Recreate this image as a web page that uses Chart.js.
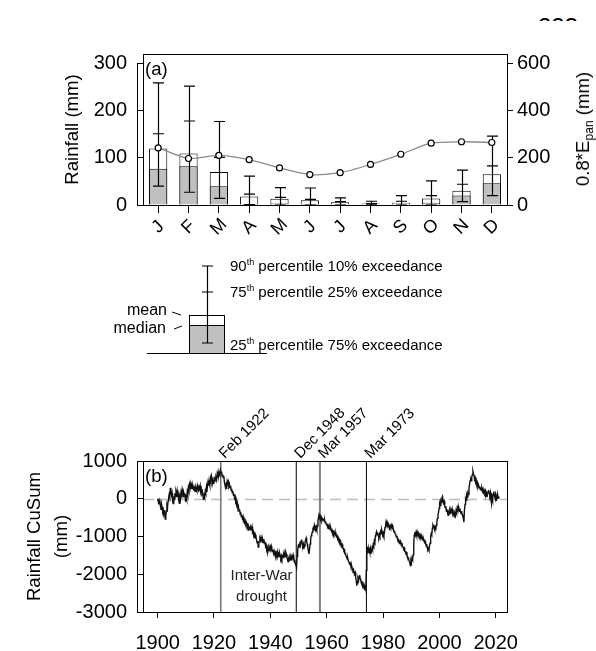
<!DOCTYPE html>
<html>
<head>
<meta charset="utf-8">
<script src="https://cdn.jsdelivr.net/npm/chart.js@4.4.1/dist/chart.umd.min.js"></script>
<style>
  body { margin: 0; background: #fff; }
  #page { position: relative; width: 596px; height: 651px; overflow: hidden; font-family: "Liberation Sans", Arial, sans-serif; color: #000; }
  canvas { position: absolute; }
  .txt { position: absolute; white-space: nowrap; line-height: 18px; }
  .txt sup { font-size: 60%; line-height: 0; vertical-align: 0.65em; }
  .txt sub { font-size: 65%; line-height: 0; vertical-align: -0.35em; }
  #pageNo { position: absolute; left: 538px; top: 0; width: 50px; height: 21px; overflow: hidden; }
  #pageNo span { position: absolute; left: 0; top: 15px; font-size: 24px; line-height: 24px; }
</style>
</head>
<body>
<div id="page">
  <div id="pageNo"><span>223</span></div>
  <canvas id="rainChart" width="596" height="250" style="left:0;top:0"></canvas>
  <canvas id="keyChart" width="400" height="120" style="left:100px;top:250px"></canvas>
  <canvas id="cusumChart" width="596" height="281" style="left:0;top:370px"></canvas>

  <div class="txt" id="evapTitle" style="left:583px;top:129px;font-size:18.6px;transform:translate(-50%,-50%) rotate(-90deg);">0.8*E<sub>pan</sub> (mm)</div>

  <div class="txt" style="left:230px;top:257px;font-size:15px;">90<sup>th</sup> percentile 10% exceedance</div>
  <div class="txt" style="left:230px;top:283px;font-size:15px;">75<sup>th</sup> percentile 25% exceedance</div>
  <div class="txt" style="left:230px;top:336px;font-size:15px;">25<sup>th</sup> percentile 75% exceedance</div>
  <div class="txt" style="right:429px;top:301px;font-size:16px;">mean</div>
  <div class="txt" style="right:430px;top:319px;font-size:16px;">median</div>
</div>
<script>
// ---- panel (a): monthly rainfall statistics ----
const months = ['J', 'F', 'M', 'A', 'M', 'J', 'J', 'A', 'S', 'O', 'N', 'D'];
const meanRain = [120, 109, 70, 18, 13, 10, 6, 3, 5, 14, 30, 65];
const medianRain = [77, 82, 40, 2, 3, 2, 1, 0, 1, 5, 20, 46];
const p25Rain = [40, 27, 14, 1, 0, 0, 0, 0, 0, 0, 7, 20];
const p75Rain = [151, 178, 101, 23, 16, 12, 7, 3, 8, 20, 44, 83];
const p90Rain = [259, 252, 177, 61, 37, 36, 15, 8, 20, 51, 74, 146];
const evapPan = [242, 197, 210, 192, 157, 129, 137, 172, 215, 262, 268, 265];
const rainTicks = [0, 100, 200, 300];
const evapTicks = [0, 200, 400, 600];

// ---- key diagram ----
const keyMean = [38];
const keyMedian = [28];
const keyP25 = [10];
const keyP75 = [61];
const keyP90 = [87];

// ---- panel (b): rainfall CuSum ----
const cusumSeries = [
  [1900.0, 0], [1900.2, -60], [1900.4, -150], [1900.6, -40], [1900.8, -90], [1901.0, -200], [1901.2, -280],
  [1901.4, -150], [1901.6, -220], [1901.8, -350], [1902.0, -300], [1902.2, -420], [1902.5, -360], [1902.7, -540],
  [1902.9, -430], [1903.1, -330], [1903.3, -180], [1903.5, -240], [1903.7, -60], [1903.9, 40], [1904.1, 120],
  [1904.3, 60], [1904.5, 290], [1904.7, 180], [1904.9, 100], [1905.1, 160], [1905.3, -60], [1905.5, -130],
  [1905.7, 60], [1905.9, -20], [1906.1, 140], [1906.3, 60], [1906.5, 190], [1906.7, 120], [1906.9, 210],
  [1907.1, 40], [1907.3, 120], [1907.5, -40], [1907.7, -120], [1907.9, 60], [1908.1, 0], [1908.3, 170],
  [1908.5, 110], [1908.7, 250], [1908.9, 180], [1909.1, 60], [1909.3, 150], [1909.5, 90], [1909.7, 140],
  [1909.9, -80], [1910.1, 40], [1910.3, -20], [1910.5, 180], [1910.7, 110], [1910.9, 290], [1911.1, 220],
  [1911.3, 380], [1911.5, 430], [1911.7, 300], [1911.9, 360], [1912.1, 260], [1912.3, 380], [1912.5, 300],
  [1912.7, 240], [1912.9, 330], [1913.1, 250], [1913.3, 320], [1913.5, 180], [1913.7, 260], [1913.9, 210],
  [1914.1, 350], [1914.3, 290], [1914.5, 230], [1914.7, 310], [1914.9, 260], [1915.1, 340], [1915.3, 200],
  [1915.5, 260], [1915.7, 140], [1915.9, 180], [1916.1, 60], [1916.3, -30], [1916.5, 90], [1916.7, 40],
  [1916.9, 200], [1917.1, 150], [1917.3, 300], [1917.5, 180], [1917.7, 380], [1917.9, 470], [1918.1, 350],
  [1918.3, 430], [1918.5, 360], [1918.7, 540], [1918.9, 470], [1919.1, 600], [1919.3, 520], [1919.5, 430],
  [1919.7, 500], [1919.9, 390], [1920.1, 470], [1920.3, 580], [1920.5, 480], [1920.7, 560], [1920.9, 500],
  [1921.1, 640], [1921.3, 560], [1921.5, 700], [1921.7, 610], [1921.9, 680], [1922.1, 640], [1922.3, 760],
  [1922.5, 690], [1922.7, 710], [1922.9, 600], [1923.1, 640], [1923.3, 560], [1923.5, 600], [1923.7, 430],
  [1923.9, 360], [1924.1, 300], [1924.3, 360], [1924.5, 260], [1924.7, 470], [1924.9, 420], [1925.1, 460],
  [1925.3, 330], [1925.5, 380], [1925.7, 290], [1925.9, 340], [1926.1, 220], [1926.3, 260], [1926.5, 160],
  [1926.7, 200], [1926.9, 90], [1927.1, 130], [1927.3, 20], [1927.5, 60], [1927.7, -80], [1927.9, -40],
  [1928.1, -170], [1928.3, -130], [1928.5, -260], [1928.7, -220], [1928.9, -330], [1929.1, -290], [1929.3, -410],
  [1929.5, -360], [1929.7, -480], [1929.9, -440], [1930.1, -520], [1930.3, -470], [1930.5, -580], [1930.7, -540],
  [1930.9, -620], [1931.1, -580], [1931.3, -680], [1931.5, -640], [1931.7, -740], [1931.9, -700], [1932.1, -830],
  [1932.3, -740], [1932.5, -790], [1932.7, -730], [1932.9, -820], [1933.1, -760], [1933.3, -800], [1933.5, -740],
  [1933.7, -890], [1933.9, -860], [1934.1, -970], [1934.3, -930], [1934.5, -1050], [1934.7, -960], [1934.9, -1020],
  [1935.1, -1090], [1935.3, -1170], [1935.5, -1120], [1935.7, -1280], [1935.9, -1180], [1936.1, -1130], [1936.3, -1060],
  [1936.5, -1110], [1936.7, -1010], [1936.9, -1060], [1937.1, -1150], [1937.3, -1090], [1937.5, -1160], [1937.7, -1070],
  [1937.9, -1190], [1938.1, -1140], [1938.3, -1260], [1938.5, -1220], [1938.7, -1340], [1938.9, -1290], [1939.1, -1410],
  [1939.3, -1350], [1939.5, -1290], [1939.7, -1340], [1939.9, -1260], [1940.1, -1310], [1940.3, -1250], [1940.5, -1330],
  [1940.7, -1390], [1940.9, -1350], [1941.1, -1440], [1941.3, -1380], [1941.5, -1460], [1941.7, -1420], [1941.9, -1500],
  [1942.1, -1430], [1942.3, -1470], [1942.5, -1400], [1942.7, -1520], [1942.9, -1470], [1943.1, -1530], [1943.3, -1440],
  [1943.5, -1500], [1943.7, -1570], [1943.9, -1510], [1944.1, -1580], [1944.3, -1520], [1944.5, -1560], [1944.7, -1480],
  [1944.9, -1540], [1945.1, -1470], [1945.3, -1530], [1945.5, -1420], [1945.7, -1470], [1945.9, -1560], [1946.1, -1610],
  [1946.3, -1670], [1946.5, -1590], [1946.7, -1630], [1946.9, -1560], [1947.1, -1610], [1947.3, -1540], [1947.5, -1590],
  [1947.7, -1520], [1947.9, -1570], [1948.1, -1490], [1948.3, -1560], [1948.5, -1620], [1948.7, -1660], [1948.9, -1720],
  [1949.1, -1760], [1949.3, -1820], [1949.5, -1520], [1949.7, -1380], [1949.9, -1240], [1950.1, -1190], [1950.3, -1280],
  [1950.5, -1140], [1950.7, -1220], [1950.9, -1120], [1951.1, -1080], [1951.3, -1180], [1951.5, -1260], [1951.7, -1200],
  [1951.9, -1330], [1952.1, -1250], [1952.3, -1170], [1952.5, -1090], [1952.7, -1040], [1952.9, -1130], [1953.1, -1210],
  [1953.3, -1290], [1953.5, -1380], [1953.7, -1460], [1953.9, -1350], [1954.1, -1200], [1954.3, -1080], [1954.5, -980],
  [1954.7, -930], [1954.9, -880], [1955.1, -800], [1955.3, -760], [1955.5, -820], [1955.7, -700], [1955.9, -740],
  [1956.1, -790], [1956.3, -740], [1956.5, -810], [1956.7, -720], [1956.9, -580], [1957.1, -500], [1957.3, -420],
  [1957.5, -480], [1957.7, -450], [1957.9, -540], [1958.1, -500], [1958.3, -580], [1958.5, -530], [1958.7, -560],
  [1958.9, -520], [1959.1, -600], [1959.3, -570], [1959.5, -640], [1959.7, -610], [1959.9, -690], [1960.1, -660],
  [1960.3, -740], [1960.5, -790], [1960.7, -740], [1960.9, -780], [1961.1, -760], [1961.3, -820], [1961.5, -790],
  [1961.7, -860], [1961.9, -830], [1962.1, -900], [1962.3, -870], [1962.5, -930], [1962.7, -880], [1962.9, -920],
  [1963.1, -960], [1963.3, -930], [1963.5, -1000], [1963.7, -980], [1963.9, -1060], [1964.1, -1030], [1964.3, -1100],
  [1964.5, -1080], [1964.7, -1140], [1964.9, -1120], [1965.1, -1200], [1965.3, -1240], [1965.5, -1210], [1965.7, -1290],
  [1965.9, -1320], [1966.1, -1370], [1966.3, -1350], [1966.5, -1430], [1966.7, -1470], [1966.9, -1520], [1967.1, -1550],
  [1967.3, -1600], [1967.5, -1580], [1967.7, -1650], [1967.9, -1680], [1968.1, -1720], [1968.3, -1700], [1968.5, -1770],
  [1968.7, -1820], [1968.9, -1790], [1969.1, -1860], [1969.3, -1900], [1969.5, -1870], [1969.7, -1940], [1969.9, -1980],
  [1970.1, -1950], [1970.3, -2080], [1970.5, -2180], [1970.7, -2300], [1970.9, -2200], [1971.1, -2120], [1971.3, -2180],
  [1971.5, -2060], [1971.7, -2020], [1971.9, -2110], [1972.1, -2170], [1972.3, -2230], [1972.5, -2180], [1972.7, -2300],
  [1972.9, -2250], [1973.1, -2330], [1973.3, -2290], [1973.5, -2370], [1973.7, -2340], [1973.9, -2410], [1974.05, -1900],
  [1974.2, -1400], [1974.3, -1280], [1974.5, -1380], [1974.7, -1300], [1974.9, -1440], [1975.1, -1350], [1975.3, -1420],
  [1975.5, -1330], [1975.7, -1460], [1975.9, -1380], [1976.1, -1300], [1976.3, -1350], [1976.5, -1220], [1976.7, -1260],
  [1976.9, -1120], [1977.1, -1160], [1977.3, -980], [1977.5, -920], [1977.7, -870], [1977.9, -940], [1978.1, -900],
  [1978.3, -980], [1978.5, -1020], [1978.7, -950], [1978.9, -1000], [1979.1, -880], [1979.3, -930], [1979.5, -820],
  [1979.7, -880], [1979.9, -940], [1980.1, -900], [1980.3, -970], [1980.5, -890], [1980.7, -760], [1980.9, -700],
  [1981.1, -600], [1981.3, -660], [1981.5, -620], [1981.7, -710], [1981.9, -680], [1982.1, -760], [1982.3, -800],
  [1982.5, -740], [1982.7, -780], [1982.9, -690], [1983.1, -730], [1983.3, -700], [1983.5, -760], [1983.7, -820],
  [1983.9, -880], [1984.1, -850], [1984.3, -930], [1984.5, -960], [1984.7, -1010], [1984.9, -980], [1985.1, -1060],
  [1985.3, -1100], [1985.5, -1080], [1985.7, -1130], [1985.9, -1150], [1986.1, -1120], [1986.3, -1180], [1986.5, -1200],
  [1986.7, -1170], [1986.9, -1250], [1987.1, -1280], [1987.3, -1320], [1987.5, -1300], [1987.7, -1380], [1987.9, -1410],
  [1988.1, -1440], [1988.3, -1420], [1988.5, -1490], [1988.7, -1530], [1988.9, -1560], [1989.1, -1600], [1989.3, -1660],
  [1989.5, -1700], [1989.7, -1770], [1989.9, -1640], [1990.1, -1690], [1990.3, -1560], [1990.5, -1600], [1990.7, -1480],
  [1990.9, -1200], [1991.1, -950], [1991.3, -880], [1991.5, -960], [1991.7, -890], [1991.9, -960], [1992.1, -870],
  [1992.3, -930], [1992.5, -900], [1992.7, -960], [1992.9, -940], [1993.1, -1000], [1993.3, -970], [1993.5, -1050],
  [1993.7, -1020], [1993.9, -1080], [1994.1, -1060], [1994.3, -1110], [1994.5, -1090], [1994.7, -1150], [1994.9, -1120],
  [1995.1, -1180], [1995.3, -1220], [1995.5, -1200], [1995.7, -1280], [1995.9, -1360], [1996.1, -1330], [1996.3, -1370],
  [1996.5, -1240], [1996.7, -1180], [1996.9, -1010], [1997.1, -930], [1997.3, -960], [1997.5, -780], [1997.7, -700],
  [1997.9, -740], [1998.1, -720], [1998.3, -790], [1998.5, -760], [1998.7, -840], [1998.9, -700], [1999.1, -620],
  [1999.3, -520], [1999.5, -430], [1999.7, -360], [1999.9, -250], [2000.1, -130], [2000.3, -180], [2000.5, -60],
  [2000.7, -100], [2000.9, 20], [2001.1, 60], [2001.3, -40], [2001.5, -90], [2001.7, -60], [2001.9, -180],
  [2002.1, -240], [2002.3, -200], [2002.5, -330], [2002.7, -280], [2002.9, -380], [2003.1, -440], [2003.3, -360],
  [2003.5, -400], [2003.7, -320], [2003.9, -380], [2004.1, -290], [2004.3, -330], [2004.5, -270], [2004.7, -390],
  [2004.9, -340], [2005.1, -430], [2005.3, -480], [2005.5, -400], [2005.7, -450], [2005.9, -320], [2006.1, -370],
  [2006.3, -250], [2006.5, -300], [2006.7, -200], [2006.9, -280], [2007.1, -330], [2007.3, -260], [2007.5, -350],
  [2007.7, -390], [2007.9, -330], [2008.1, -420], [2008.3, -460], [2008.5, -520], [2008.7, -620], [2008.9, -300],
  [2009.1, -150], [2009.3, 0], [2009.5, -40], [2009.7, 90], [2009.9, 40], [2010.1, 150], [2010.3, 110],
  [2010.5, 280], [2010.7, 380], [2010.9, 470], [2011.1, 520], [2011.3, 480], [2011.5, 580], [2011.7, 640],
  [2011.9, 730], [2012.1, 660], [2012.3, 610], [2012.5, 520], [2012.7, 560], [2012.9, 440], [2013.1, 480],
  [2013.3, 370], [2013.5, 420], [2013.7, 310], [2013.9, 360], [2014.1, 290], [2014.3, 330], [2014.5, 250],
  [2014.7, 300], [2014.9, 220], [2015.1, 270], [2015.3, 200], [2015.5, 260], [2015.7, 180], [2015.9, 220],
  [2016.1, 160], [2016.3, 210], [2016.5, 100], [2016.7, 150], [2016.9, 40], [2017.1, 120], [2017.3, 190],
  [2017.5, 230], [2017.7, 150], [2017.9, 90], [2018.1, 160], [2018.3, -20], [2018.5, -130], [2018.7, 50],
  [2018.9, -20], [2019.1, 120], [2019.3, 190], [2019.5, 90], [2019.7, 30], [2019.9, 110], [2020.1, -40],
  [2020.3, 60], [2020.5, 10], [2020.7, 90], [2020.9, 20], [2021.1, 60]
];
const yearTicks = [1900, 1920, 1940, 1960, 1980, 2000, 2020];
const cusumTicks = [-3000, -2000, -1000, 0, 1000];
const eventYears = [1922.4, 1949.2, 1957.6, 1974.1];
const eventLabels = ['Feb 1922', 'Dec 1948', 'Mar 1957', 'Mar 1973'];

const FONT = '"Liberation Sans", Arial, sans-serif';
Chart.defaults.font.family = FONT;
Chart.defaults.color = '#000';

const eventStyles = [
  { color: '#7a7a7a', width: 1.6 },
  { color: '#000', width: 1 },
  { color: '#808080', width: 2 },
  { color: '#000', width: 1 }
];

const crisp = v => Math.round(v) + 0.5;

// box + offset spine, like the original plotting package
const framePlugin = {
  id: 'frame',
  afterDraw(chart, args, opts) {
    const { ctx, chartArea: a } = chart;
    ctx.save();
    ctx.strokeStyle = '#000';
    ctx.lineWidth = 1;
    ctx.strokeRect(crisp(a.left), crisp(a.top), Math.round(a.right - a.left), Math.round(a.bottom - a.top));
    if (opts.spine) {
      const y = chart.scales.y;
      ctx.beginPath();
      ctx.moveTo(crisp(a.left - 6), y.getPixelForValue(opts.spine[0]));
      ctx.lineTo(crisp(a.left - 6), y.getPixelForValue(opts.spine[1]));
      ctx.stroke();
    }
    if (opts.tag) {
      ctx.font = '18.6px ' + FONT;
      ctx.fillStyle = '#000';
      ctx.textBaseline = 'middle';
      ctx.fillText(opts.tag, a.left + 2, a.top + 16);
    }
    ctx.restore();
  }
};

function drawWhiskers(ctx, x, y, lo, mid, hi) {
  ctx.save();
  ctx.strokeStyle = '#000';
  ctx.lineWidth = 1.2;
  lo.forEach((v, i) => {
    const px = crisp(x.getPixelForValue(i));
    const ys = [lo[i], mid[i], hi[i]].map(v => y.getPixelForValue(v));
    ctx.beginPath();
    ctx.moveTo(px, ys[0]);
    ctx.lineTo(px, ys[2]);
    ys.forEach(yy => { ctx.moveTo(px - 5.5, yy); ctx.lineTo(px + 5.5, yy); });
    ctx.stroke();
  });
  ctx.restore();
}

const whiskerPlugin = {
  id: 'whiskers',
  afterDatasetDraw(chart, args) {
    if (chart.data.datasets[args.index].label !== 'median') return;
    drawWhiskers(chart.ctx, chart.scales.x, chart.scales.y, p25Rain, p75Rain, p90Rain);
  }
};

const monthLabelPlugin = {
  id: 'monthLabels',
  afterDraw(chart) {
    const { ctx, scales: { x } } = chart;
    ctx.save();
    ctx.font = '18px ' + FONT;
    ctx.fillStyle = '#000';
    ctx.textAlign = 'center';
    ctx.textBaseline = 'middle';
    months.forEach((m, i) => {
      ctx.save();
      ctx.translate(x.getPixelForValue(i), chart.chartArea.bottom + 22);
      ctx.rotate(-Math.PI / 4);
      ctx.fillText(m, 0, 0);
      ctx.restore();
    });
    ctx.restore();
  }
};

const fixedTicks = list => scale => { scale.ticks = list.map(v => ({ value: v })); };

new Chart(document.getElementById('rainChart'), {
  type: 'bar',
  data: {
    labels: months,
    datasets: [
      { type: 'line', label: 'evap', data: evapPan, yAxisID: 'y2', order: 0,
        borderColor: '#8a8a8a', borderWidth: 1.3, tension: 0.25,
        pointRadius: 3, pointBackgroundColor: '#fff', pointBorderColor: '#000', pointBorderWidth: 1.2 },
      { label: 'median', data: medianRain, order: 1, backgroundColor: '#c0c0c0', borderColor: '#000',
        borderWidth: 1, grouped: false, barPercentage: 0.6, categoryPercentage: 1 },
      { label: 'mean', data: meanRain, order: 2, backgroundColor: '#fff', borderColor: '#000',
        borderWidth: 1, grouped: false, barPercentage: 0.6, categoryPercentage: 1 }
    ]
  },
  options: {
    animation: false, responsive: false, devicePixelRatio: 1,
    layout: { padding: { top: 54, left: 0, right: 0, bottom: 0 } },
    plugins: { legend: { display: false }, tooltip: { enabled: false }, frame: { spine: [0, 300], tag: '(a)' } },
    scales: {
      x: {
        offset: true,
        ticks: { display: false },
        grid: { offset: false, drawOnChartArea: false, tickLength: 8, color: '#000' },
        border: { display: false },
        afterFit: s => { s.height = 45; }
      },
      y: {
        position: 'left', min: 0, max: 320,
        afterBuildTicks: fixedTicks(rainTicks),
        ticks: { font: { size: 20 }, padding: 10, callback: v => String(v) },
        grid: { drawOnChartArea: false, tickLength: 6, color: '#000' },
        border: { display: false },
        title: { display: true, text: 'Rainfall (mm)', font: { size: 18.6 }, padding: { top: 62, bottom: 0 } },
        afterFit: s => { s.width = 143; }
      },
      y2: {
        position: 'right', min: 0, max: 640,
        afterBuildTicks: fixedTicks(evapTicks),
        ticks: { font: { size: 20 }, padding: 4, callback: v => String(v) },
        grid: { drawOnChartArea: false, tickLength: 6, color: '#000' },
        border: { display: false },
        afterFit: s => { s.width = 89; }
      }
    }
  },
  plugins: [framePlugin, whiskerPlugin, monthLabelPlugin]
});

// key diagram: one bar drawn the same way as panel (a)
const keyPlugin = {
  id: 'keyParts',
  afterDatasetsDraw(chart) {
    const { ctx, chartArea: a, scales: { x, y } } = chart;
    drawWhiskers(ctx, x, y, keyP25, keyP75, keyP90);
    const bar = chart.getDatasetMeta(1).data[0];
    const left = bar.x - bar.width / 2;
    const yMean = y.getPixelForValue(keyMean[0]);
    const yMed = y.getPixelForValue(keyMedian[0]);
    ctx.save();
    ctx.strokeStyle = '#000';
    ctx.lineWidth = 1;
    ctx.beginPath();
    ctx.moveTo(a.left, crisp(y.getPixelForValue(0)));
    ctx.lineTo(a.right, crisp(y.getPixelForValue(0)));
    ctx.moveTo(left - 17, yMean - 3);
    ctx.lineTo(left - 8, yMean);
    ctx.moveTo(left - 15, yMed + 4);
    ctx.lineTo(left - 7, yMed + 1);
    ctx.stroke();
    ctx.restore();
  }
};

new Chart(document.getElementById('keyChart'), {
  type: 'bar',
  data: {
    labels: ['key'],
    datasets: [
      { label: 'median', data: keyMedian, order: 1, backgroundColor: '#c0c0c0', borderColor: '#000',
        borderWidth: 1, grouped: false, barPercentage: 0.3, categoryPercentage: 1 },
      { label: 'mean', data: keyMean, order: 2, backgroundColor: '#fff', borderColor: '#000',
        borderWidth: 1, grouped: false, barPercentage: 0.3, categoryPercentage: 1 }
    ]
  },
  options: {
    animation: false, responsive: false, devicePixelRatio: 1,
    layout: { padding: { top: 3, left: 47, right: 233, bottom: 17 } },
    plugins: { legend: { display: false }, tooltip: { enabled: false } },
    scales: {
      x: { display: false },
      y: { display: false, min: 0, max: 100 }
    }
  },
  plugins: [keyPlugin]
});

// panel (b)
const eventPlugin = {
  id: 'events',
  beforeDatasetsDraw(chart) {
    const { ctx, chartArea: a, scales: { x, y } } = chart;
    ctx.save();
    ctx.strokeStyle = '#bdbdbd';
    ctx.lineWidth = 1.3;
    ctx.setLineDash([11, 6]);
    ctx.beginPath();
    ctx.moveTo(a.left, crisp(y.getPixelForValue(0)));
    ctx.lineTo(a.right, crisp(y.getPixelForValue(0)));
    ctx.stroke();
    ctx.setLineDash([]);
    eventYears.forEach((yr, i) => {
      const px = x.getPixelForValue(yr);
      ctx.strokeStyle = eventStyles[i].color;
      ctx.lineWidth = eventStyles[i].width;
      ctx.beginPath();
      ctx.moveTo(px, a.top);
      ctx.lineTo(px, a.bottom);
      ctx.stroke();
    });
    ctx.restore();
  },
  afterDraw(chart) {
    const { ctx, chartArea: a, scales: { x } } = chart;
    ctx.save();
    ctx.fillStyle = '#000';
    ctx.font = '15px ' + FONT;
    ctx.textBaseline = 'alphabetic';
    ctx.textAlign = 'left';
    eventYears.forEach((yr, i) => {
      ctx.save();
      ctx.translate(x.getPixelForValue(yr) + 4, a.top - 2);
      ctx.rotate(-Math.PI / 4);
      ctx.fillText(eventLabels[i], 0, 0);
      ctx.restore();
    });
    const mid = (x.getPixelForValue(eventYears[0]) + x.getPixelForValue(eventYears[1])) / 2 + 3;
    ctx.fillStyle = '#222';
    ctx.textAlign = 'center';
    ctx.textBaseline = 'middle';
    ctx.fillText('Inter-War', mid, a.bottom - 36);
    ctx.fillText('drought', mid, a.bottom - 15);
    ctx.restore();
  }
};

new Chart(document.getElementById('cusumChart'), {
  type: 'line',
  data: {
    datasets: [{
      data: cusumSeries.map(([x, y]) => ({ x, y })),
      borderColor: '#111', borderWidth: 1.4, pointRadius: 0, tension: 0
    }]
  },
  options: {
    animation: false, responsive: false, devicePixelRatio: 1,
    layout: { padding: { top: 91, left: 0, right: 89, bottom: 0 } },
    plugins: { legend: { display: false }, tooltip: { enabled: false }, frame: { spine: [-3000, 1000], tag: '(b)' } },
    scales: {
      x: {
        type: 'linear', min: 1894.8, max: 2024,
        afterBuildTicks: fixedTicks(yearTicks),
        ticks: { font: { size: 20 }, padding: 13, callback: v => String(v) },
        grid: { drawOnChartArea: false, tickLength: 6, color: '#000' },
        border: { display: false },
        afterFit: s => { s.height = 39; }
      },
      y: {
        min: -3000, max: 1000,
        afterBuildTicks: fixedTicks(cusumTicks),
        ticks: { font: { size: 20 }, padding: 10, callback: v => String(v) },
        grid: { drawOnChartArea: false, tickLength: 6, color: '#000' },
        border: { display: false },
        title: { display: true, text: ['Rainfall CuSum', '(mm)'], font: { size: 18.6, lineHeight: 1.45 }, padding: { top: 21.5, bottom: 0 } },
        afterFit: s => { s.width = 143; }
      }
    }
  },
  plugins: [framePlugin, eventPlugin]
});
</script>
</body>
</html>
